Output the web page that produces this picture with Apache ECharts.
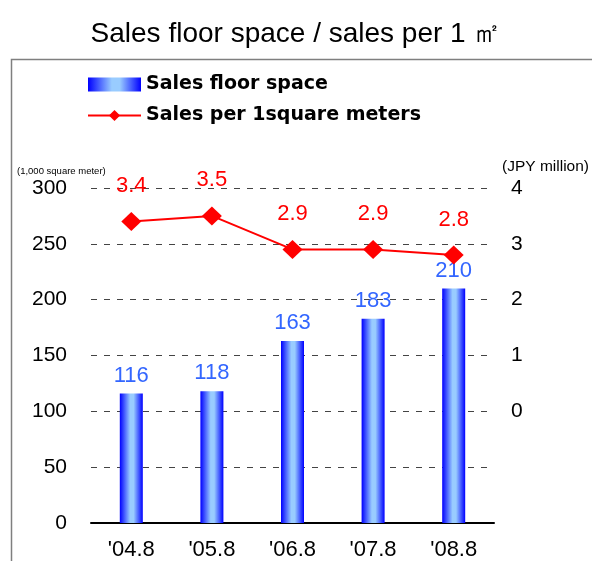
<!DOCTYPE html>
<html><head><meta charset="utf-8">
<script src="https://cdn.jsdelivr.net/npm/echarts@6/dist/echarts.min.js"></script>
<style>html,body{margin:0;padding:0;background:#fff}#c{width:592px;height:561px}</style>
</head><body><div id="c"></div>
<script>
const categories = ["'04.8", "'05.8", "'06.8", "'07.8", "'08.8"];
const floorSpace = [116, 118, 163, 183, 210];
const salesPerSqm = [3.4, 3.5, 2.9, 2.9, 2.8];
const leftTicks = [0, 50, 100, 150, 200, 250, 300];
const rightTicks = [0, 1, 2, 3, 4];

const chart = echarts.init(document.getElementById('c'));
const numFont = '"Liberation Sans", Arial, sans-serif';
const barGrad = new echarts.graphic.LinearGradient(0, 0, 1, 0, [
  {offset: 0, color: '#0000ff'},
  {offset: 0.45, color: '#99ccff'},
  {offset: 0.6, color: '#99ccff'},
  {offset: 1, color: '#0000ff'}
]);
chart.setOption({
  animation: false,
  title: {
    text: 'Sales floor space / sales per 1 ㎡',
    left: 'center', top: 15,
    textStyle: {fontFamily: numFont, fontSize: 28, fontWeight: 'normal', color: '#000'}
  },
  graphic: [
    {type: 'rect', shape: {x: 11.5, y: 59.5, width: 590, height: 520},
     style: {fill: 'none', stroke: '#7f7f7f', lineWidth: 1.5}, silent: true},
    {type: 'text', left: 17, top: 166,
     style: {text: '(1,000 square meter)', fontFamily: numFont, fontSize: 9.5, fill: '#000'}},
    {type: 'text', left: 502, top: 159,
     style: {text: '(JPY million)', fontFamily: numFont, fontSize: 15.5, fill: '#000'}}
  ],
  legend: {
    orient: 'vertical', left: 82, top: 70, itemGap: 12,
    itemWidth: 53, itemHeight: 14,
    textStyle: {fontFamily: '"DejaVu Sans", sans-serif', fontWeight: 'bold', fontSize: 19, color: '#000'},
    data: [
      {name: 'Sales floor space', icon: 'rect'},
      {name: 'Sales per 1square meters'}
    ]
  },
  grid: {left: 91, right: 98, top: 188, bottom: 36, containLabel: false},
  xAxis: {
    type: 'category', data: categories,
    axisLine: {lineStyle: {color: '#000', width: 2}},
    axisTick: {show: false},
    axisLabel: {fontFamily: numFont, fontSize: 22, color: '#000', margin: 16}
  },
  yAxis: [
    {type: 'value', min: 0, max: 300, interval: 50,
     axisLine: {show: false}, axisTick: {show: false},
     axisLabel: {fontFamily: numFont, fontSize: 21, color: '#000', margin: 24,
       formatter: v => leftTicks.includes(v) ? String(v) : ''},
     splitLine: {show: true, lineStyle: {color: '#444', type: [6, 7], width: 1}}},
    {type: 'value', min: -2, max: 4, interval: 1, position: 'right',
     axisLine: {show: false}, axisTick: {show: false},
     axisLabel: {fontFamily: numFont, fontSize: 21, color: '#000', margin: 17,
       formatter: v => rightTicks.includes(v) ? String(v) : ''},
     splitLine: {show: false}}
  ],
  series: [
    {name: 'Sales floor space', type: 'bar', data: floorSpace, barWidth: 23,
     itemStyle: {color: barGrad},
     label: {show: true, position: 'top', distance: 7, color: '#3366ff',
       fontFamily: numFont, fontSize: 22}},
    {name: 'Sales per 1square meters', type: 'line', yAxisIndex: 1, data: salesPerSqm,
     symbol: 'diamond', symbolSize: [20, 19],
     lineStyle: {color: '#ff0000', width: 2}, itemStyle: {color: '#ff0000'},
     label: {show: true, position: 'top', distance: 15, color: '#ff0000',
       fontFamily: numFont, fontSize: 22, formatter: p => p.value.toFixed(1)}}
  ]
});
</script></body></html>
